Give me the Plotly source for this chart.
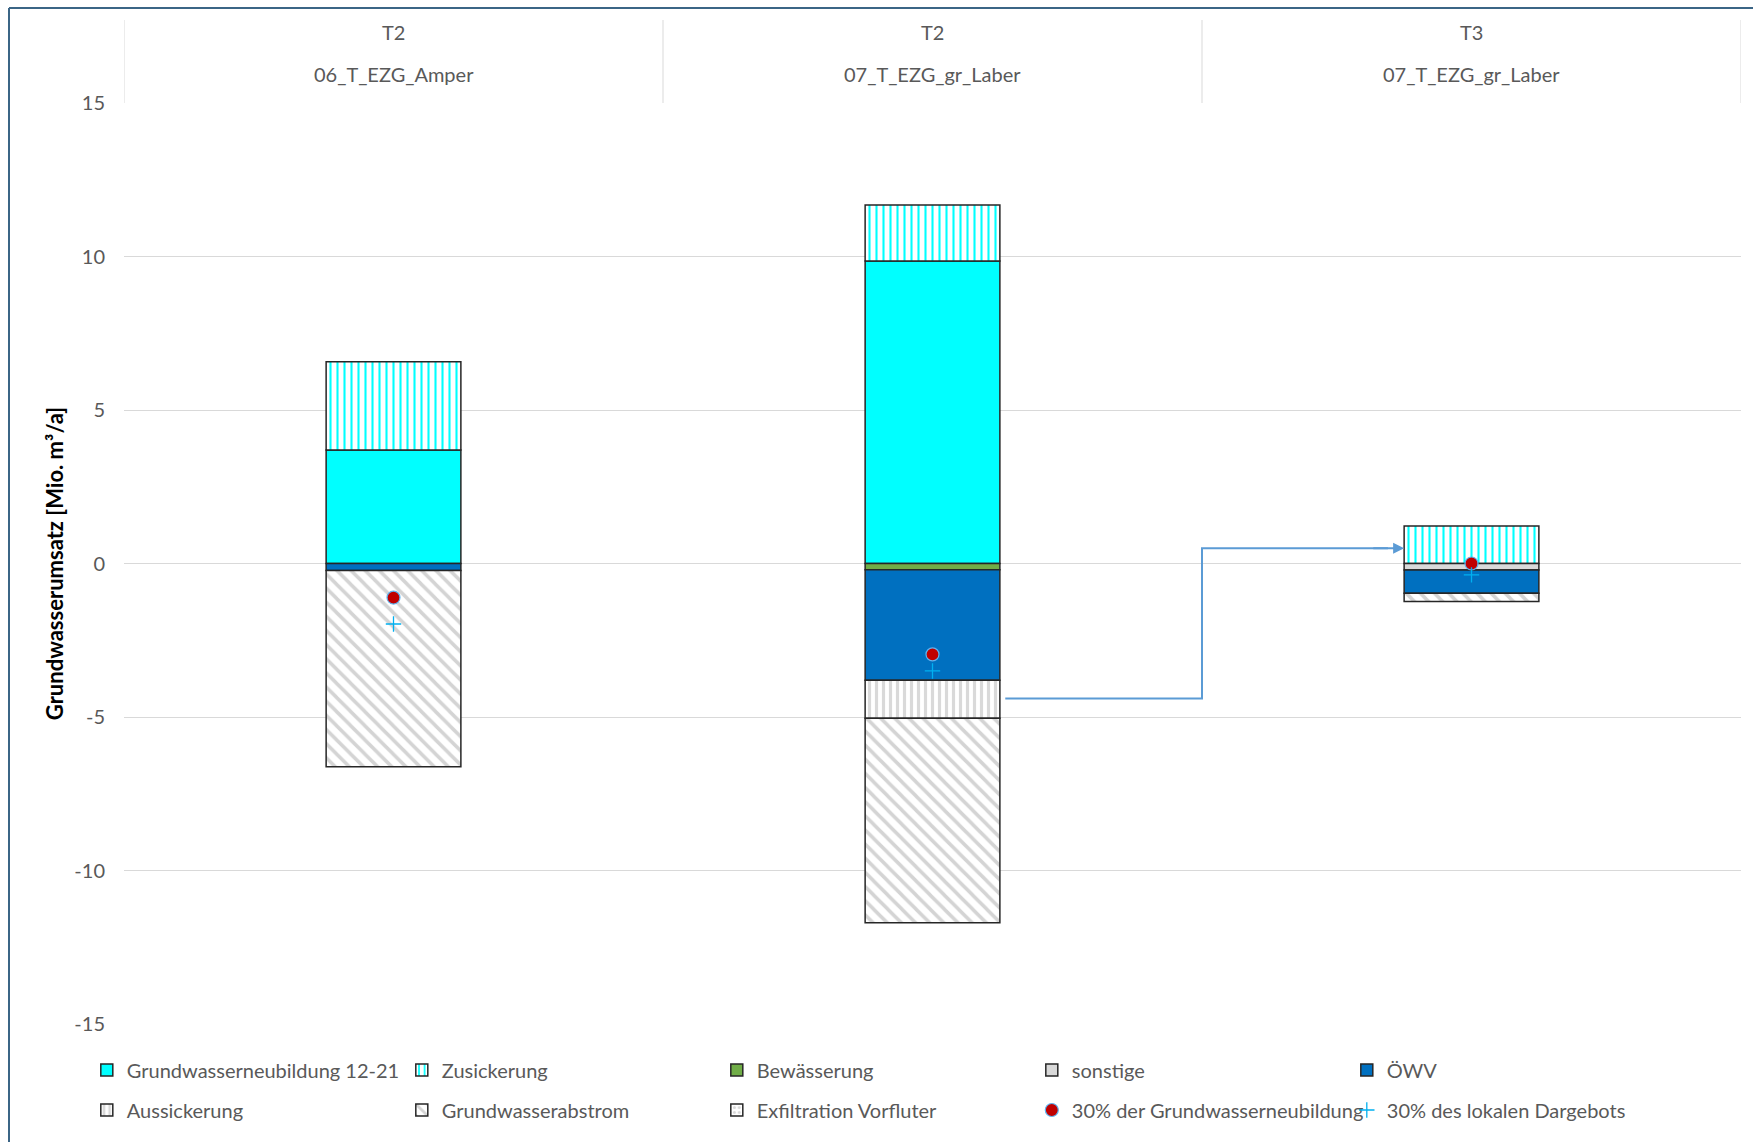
import plotly.graph_objects as go

# ---------------- data ----------------
level_top = ["T2", "T2", "T3"]
level_name = ["06_T_EZG_Amper", "07_T_EZG_gr_Laber", "07_T_EZG_gr_Laber"]

gwn = [3.70, 9.85, None]                 # Grundwasserneubildung 12-21
zusickerung = [2.87, 1.83, 1.22]
bewaesserung = [None, -0.20, None]
sonstige = [None, None, -0.21]
oewv = [-0.23, -3.60, -0.76]
aussickerung = [None, -1.24, None]
gw_abstrom = [-6.39, -6.66, -0.27]
exfiltration = [None, None, None]
gwn_30 = [-1.11, -2.96, 0.0]             # 30% der Grundwasserneubildung
dargebot_30 = [-1.97, -3.50, -0.37]      # 30% des lokalen Dargebots

flow_levels = [-4.4, 0.5]                # connector: from (cat 1) to (cat 2)

y_ticks = [-15, -10, -5, 0, 5, 10, 15]
y_ticktext = ["-15", "-10", "-5", "0", "5", "10", "15"]

# ---------------- style ----------------
FONT = "Lato"
TXT = "#595959"
GRID = "#d9d9d9"
EDGE = "#262626"
BW = 0.25
FS = 20
xs = list(range(len(level_name)))

fig = go.Figure()

def bar(name, vals, color, legend, pattern=None):
    marker = dict(color=color, line=dict(color=EDGE, width=1.5))
    if pattern:
        marker["pattern"] = pattern
    fig.add_trace(go.Bar(x=xs, y=vals, name=name, width=BW, marker=marker, legend=legend))

bar("Grundwasserneubildung 12-21", gwn, "#00ffff", "legend")
bar("Zusickerung", zusickerung, "#ffffff", "legend",
    dict(shape="|", fgcolor="#00ffff", bgcolor="#ffffff", size=7, solidity=0.3, fillmode="replace"))
bar("Bewässerung", bewaesserung, "#70ad47", "legend")
bar("sonstige", sonstige, "#d9d9d9", "legend")
bar("ÖWV", oewv, "#0070c0", "legend")
bar("Aussickerung", aussickerung, "#ffffff", "legend2",
    dict(shape="|", fgcolor="#d9d9d9", bgcolor="#ffffff", size=7, solidity=0.45, fillmode="replace"))
bar("Grundwasserabstrom", gw_abstrom, "#ffffff", "legend2",
    dict(shape="\\", fgcolor="#d4d4d4", bgcolor="#ffffff", size=10, solidity=0.35, fillmode="replace"))
bar("Exfiltration Vorfluter", exfiltration, "#ffffff", "legend2",
    dict(shape=".", fgcolor="#d9d9d9", bgcolor="#ffffff", size=6, solidity=0.3, fillmode="replace"))

fig.add_trace(go.Scatter(
    x=xs, y=gwn_30, mode="markers", name="30% der Grundwasserneubildung", legend="legend2",
    marker=dict(symbol="circle", size=13, color="#c00000", line=dict(color="#5fb4f0", width=1.2))))
fig.add_trace(go.Scatter(
    x=xs, y=dargebot_30, mode="markers", name="30% des lokalen Dargebots", legend="legend2",
    marker=dict(symbol="cross-thin", size=11, color="#00b0f0", line=dict(color="#00b0f0", width=1.3))))

# connector between category 1 and 2
x_start = 1 + BW / 2 + 0.01
x_mid = 1.5
x_end = 2 - BW / 2
fig.add_trace(go.Scatter(
    x=[x_start, x_mid, x_mid, x_end - 0.03], y=[flow_levels[0], flow_levels[0], flow_levels[1], flow_levels[1]],
    mode="lines", line=dict(color="#5b9bd5", width=2), showlegend=False, hoverinfo="skip"))
fig.add_annotation(x=x_end, y=flow_levels[1], ax=x_end - 0.06, ay=flow_levels[1],
                   xref="x", yref="y", axref="x", ayref="y", text="", showarrow=True,
                   arrowhead=2, arrowsize=1.1, arrowwidth=2, arrowcolor="#5b9bd5")

# header labels & dividers
PLOT_H = 1142 - 103 - 118
for i, (t, n) in enumerate(zip(level_top, level_name)):
    fig.add_annotation(x=i, y=(1024 - 18.5) / PLOT_H, xref="x", yref="paper", text=t,
                       showarrow=False, font=dict(family=FONT, size=FS, color=TXT))
    fig.add_annotation(x=i, y=(1024 - 60.5) / PLOT_H, xref="x", yref="paper", text=n,
                       showarrow=False, font=dict(family=FONT, size=FS, color=TXT))
for b in [-0.5, 0.5, 1.5, 2.5]:
    fig.add_shape(type="line", x0=b, x1=b, xref="x", y0=1, y1=(1024 - 20) / PLOT_H, yref="paper",
                  line=dict(color=GRID, width=1))

# outer chart frame (left and top edges visible)
PLOT_W = 1753 - 124 - 12
fx0 = (9 - 124) / PLOT_W
fy1 = (1024 - 8) / PLOT_H
fig.add_shape(type="line", xref="paper", yref="paper", x0=fx0, x1=fx0, y0=-0.2, y1=fy1,
              line=dict(color="#3b6586", width=2))
fig.add_shape(type="line", xref="paper", yref="paper", x0=fx0, x1=1.2, y0=fy1, y1=fy1,
              line=dict(color="#3b6586", width=2))

leg_common = dict(orientation="h", xanchor="left", yanchor="middle",
                  entrywidth=270, entrywidthmode="pixels", traceorder="normal",
                  font=dict(family=FONT, size=FS, color=TXT), itemwidth=30,
                  bgcolor="rgba(0,0,0,0)")
leg_x = -0.023

fig.update_layout(
    width=1753, height=1142,
    margin=dict(l=124, r=12, t=103, b=118),
    barmode="relative",
    paper_bgcolor="white", plot_bgcolor="white",
    font=dict(family=FONT, color=TXT),
    showlegend=True,
    legend=dict(x=leg_x, y=(1024 - 1070) / PLOT_H, **leg_common),
    legend2=dict(x=leg_x, y=(1024 - 1110) / PLOT_H, **leg_common),
    xaxis=dict(range=[-0.5, 2.5], showticklabels=False, showgrid=False, zeroline=False,
               showline=False, ticks=""),
    yaxis=dict(range=[-15, 15], tickvals=y_ticks, ticktext=y_ticktext, showgrid=True,
               gridcolor=GRID, gridwidth=1,
               zeroline=True, zerolinecolor=GRID, zerolinewidth=1, showline=False, ticks="",
               ticklabelstandoff=18, tickfont=dict(family=FONT, size=FS, color=TXT),
               title=dict(text="<b>Grundwasserumsatz [Mio. m³/a]</b>", standoff=4,
                          font=dict(family=FONT, size=22, color="#000000"))),
)

fig.write_html("out.html", post_script="document.body.style.margin='0';",
               config={"displayModeBar": False})
